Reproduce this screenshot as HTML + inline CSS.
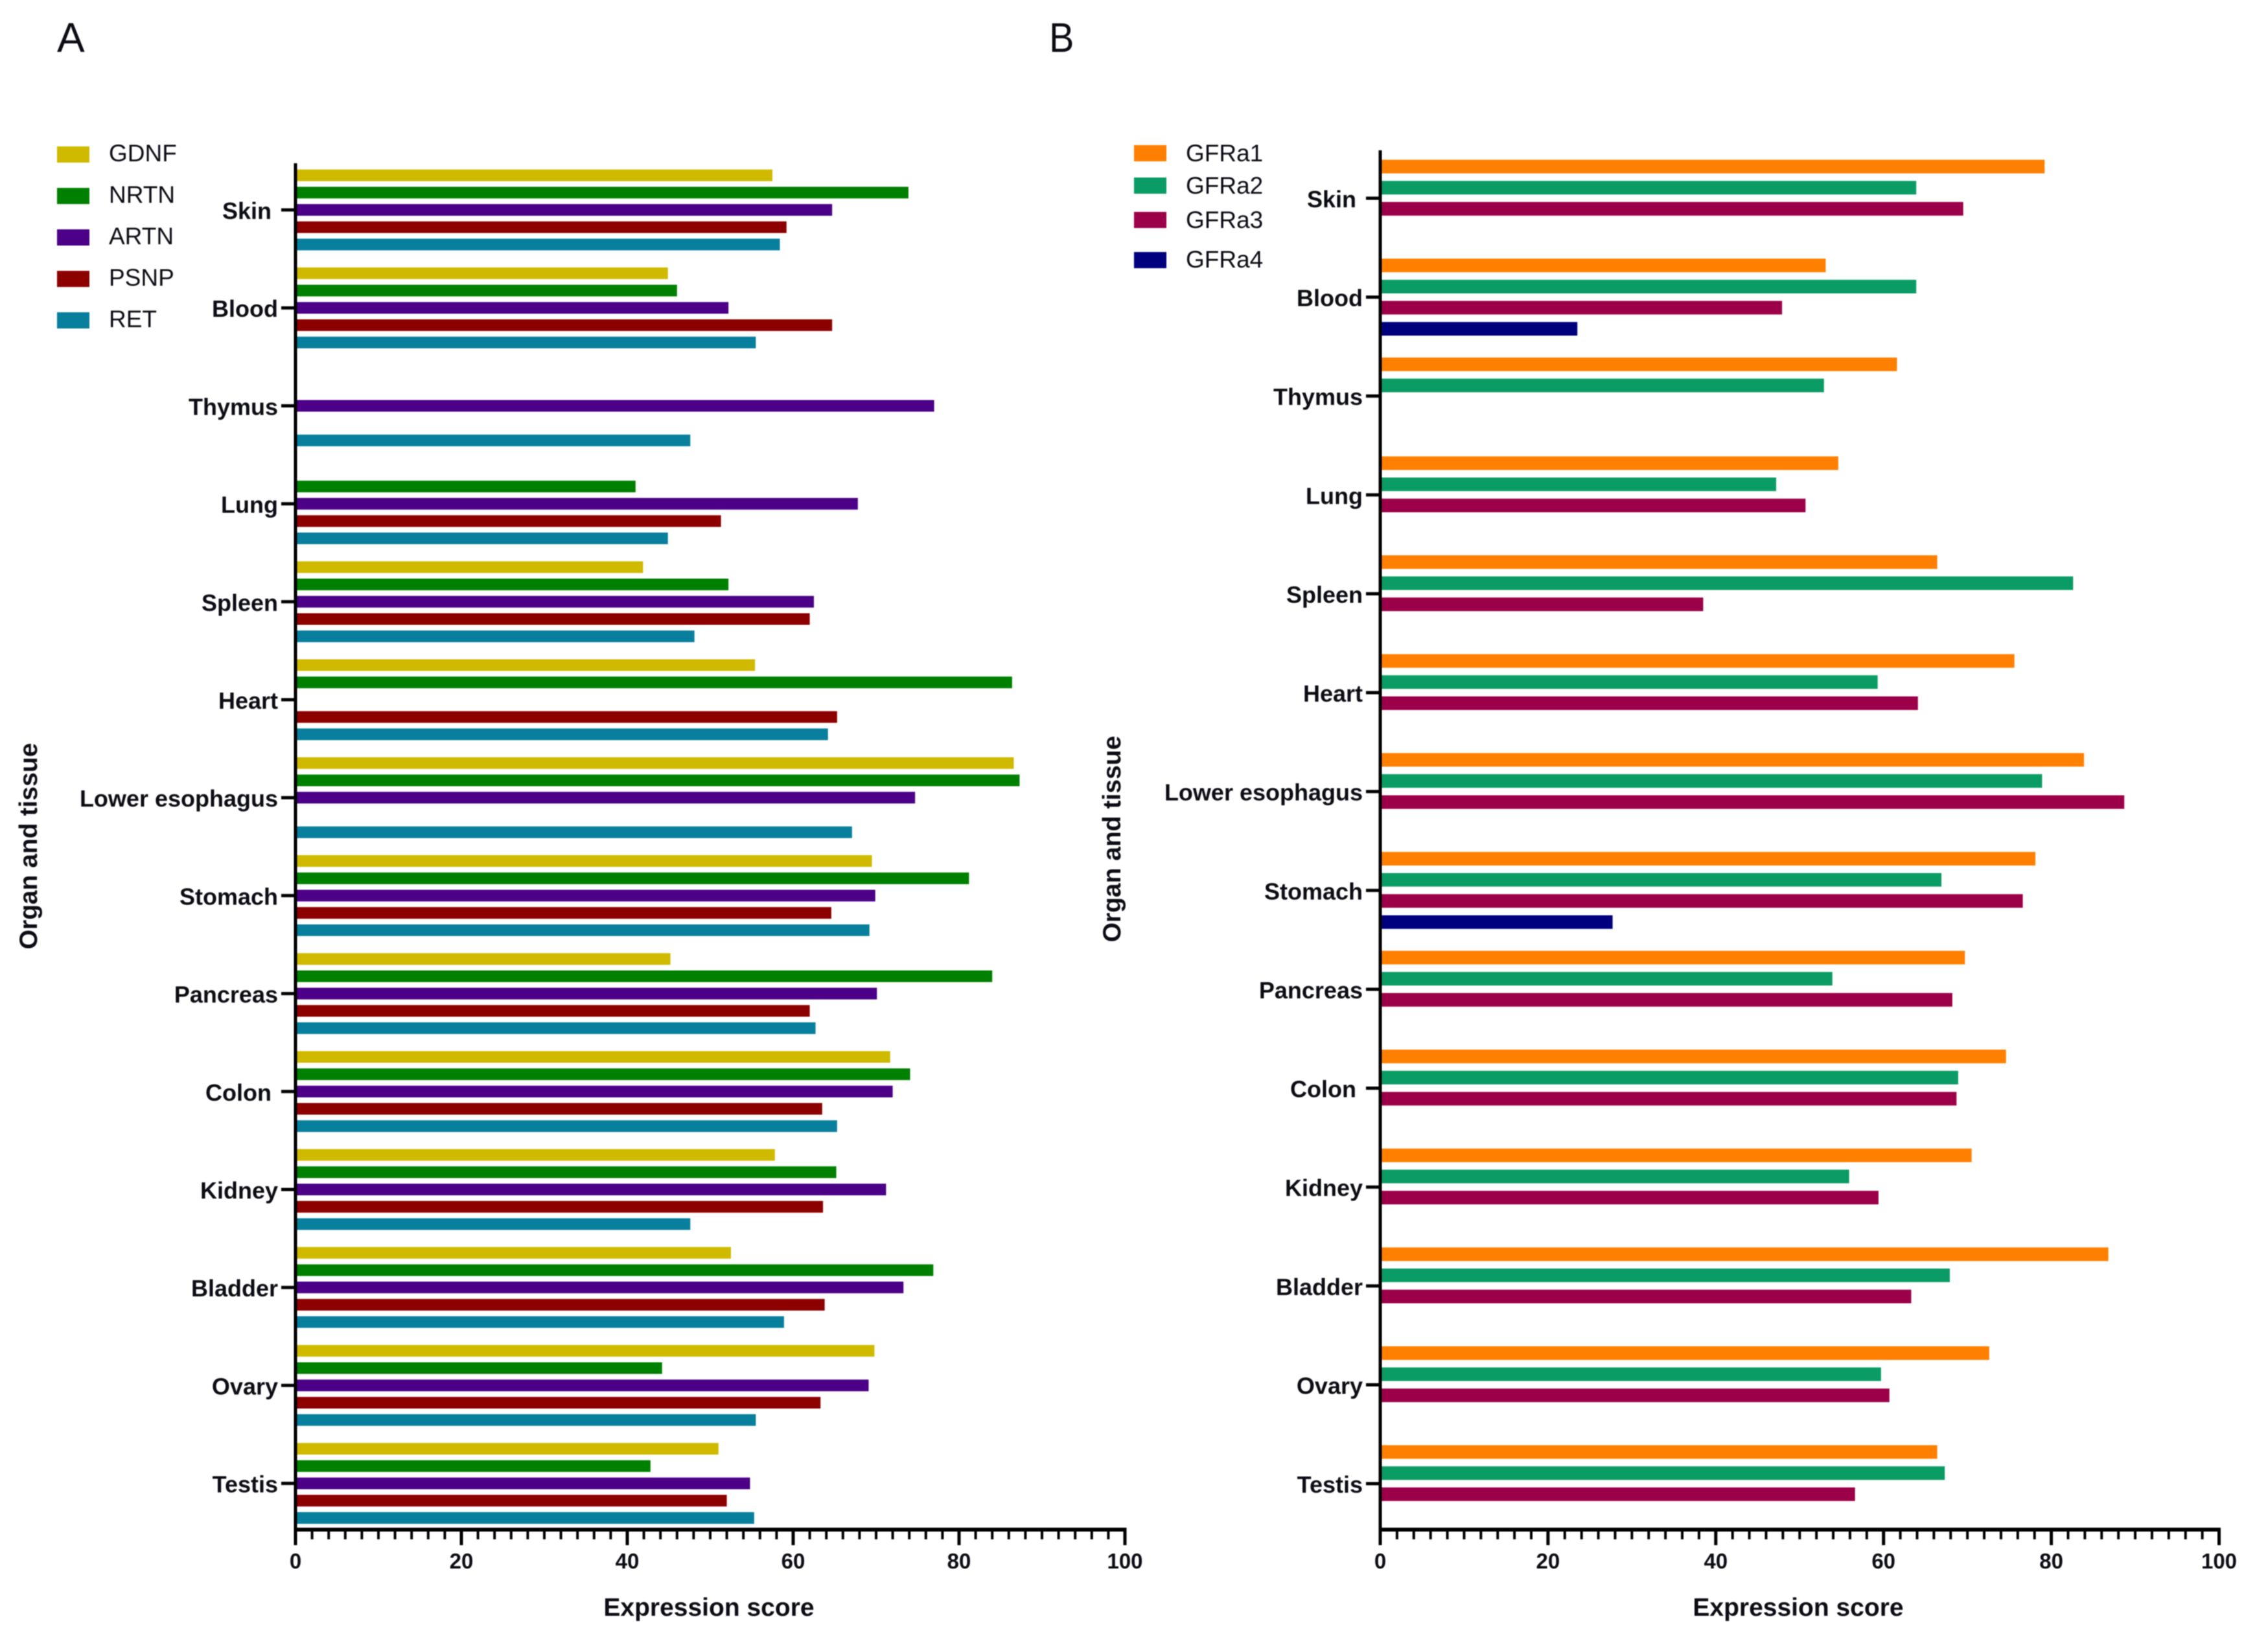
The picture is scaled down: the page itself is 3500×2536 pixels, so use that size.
<!DOCTYPE html>
<html lang="en">
<head>
<meta charset="utf-8">
<title>Expression score by organ and tissue</title>
<style>
html,body{margin:0;padding:0;background:#fff;}
svg{display:block;filter:blur(0.8px);}
text{font-family:"Liberation Sans",Arial,sans-serif;fill:#0c0c14;}
.legend{font-size:37px;}
.bold{font-weight:bold;}
</style>
</head>
<body>
<svg id="figure" xmlns="http://www.w3.org/2000/svg" width="3500" height="2536" viewBox="0 0 3500 2536">
  <rect x="0" y="0" width="3500" height="2536" fill="#fff"/>
  <text x="88" y="80" font-size="64">A</text>
  <text x="0" y="0" font-size="64" transform="translate(1619 80) scale(0.9 1)">B</text>

  <g>
    <rect x="88" y="226" width="50" height="25" fill="#d0ba00"/>
    <text class="legend" x="168" y="249">GDNF</text>
    <rect x="88" y="290" width="50" height="25" fill="#008000"/>
    <text class="legend" x="168" y="313">NRTN</text>
    <rect x="88" y="354" width="50" height="25" fill="#4b0087"/>
    <text class="legend" x="168" y="377">ARTN</text>
    <rect x="88" y="418" width="50" height="25" fill="#8c0000"/>
    <text class="legend" x="168" y="441">PSNP</text>
    <rect x="88" y="482" width="50" height="25" fill="#087f9c"/>
    <text class="legend" x="168" y="505">RET</text>
  </g>

  <g>
    <rect x="1750" y="224" width="50" height="25" fill="#ff7f00"/>
    <text class="legend" x="1830" y="249">GFRa1</text>
    <rect x="1750" y="274" width="50" height="25" fill="#0a9c64"/>
    <text class="legend" x="1830" y="299">GFRa2</text>
    <rect x="1750" y="327" width="50" height="25" fill="#9c0048"/>
    <text class="legend" x="1830" y="352">GFRa3</text>
    <rect x="1750" y="389" width="50" height="25" fill="#00007f"/>
    <text class="legend" x="1830" y="413">GFRa4</text>
  </g>

  <text class="bold" x="1094" y="2494" font-size="39" text-anchor="middle">Expression score</text>
  <text class="bold" x="2775" y="2494" font-size="39" text-anchor="middle">Expression score</text>
  <text class="bold" x="0" y="0" font-size="39" text-anchor="middle" transform="translate(57 1306) rotate(-90)">Organ and tissue</text>
  <text class="bold" x="0" y="0" font-size="39" text-anchor="middle" transform="translate(1729 1295) rotate(-90)">Organ and tissue</text>
  <g id="panel-a"></g>
  <g id="panel-b"></g>
</svg>
<script>
const categories = ['Skin','Blood','Thymus','Lung','Spleen','Heart','Lower esophagus','Stomach','Pancreas','Colon','Kidney','Bladder','Ovary','Testis'];
const looseLabels = ['Skin','Colon'];
const xTicks = [0,20,40,60,80,100];
const xMax = 100;
const minorStep = 2;

const seriesNamesA = ['GDNF','NRTN','ARTN','PSNP','RET'];
const seriesColorsA = ['#d0ba00','#008000','#4b0087','#8c0000','#087f9c'];
const gdnf = [57.5,44.9,null,null,41.9,55.4,86.6,69.5,45.2,71.7,57.8,52.5,69.8,51];
const nrtn = [73.9,46,null,41,52.2,86.4,87.3,81.2,84,74.1,65.2,76.9,44.2,42.8];
const artn = [64.7,52.2,77,67.8,62.5,null,74.7,69.9,70.1,72,71.2,73.3,69.1,54.8];
const psnp = [59.2,64.7,null,51.3,62,65.3,null,64.6,62,63.5,63.6,63.8,63.3,52];
const ret = [58.4,55.5,47.6,44.9,48.1,64.2,67.1,69.2,62.7,65.3,47.6,58.9,55.5,55.3];

const seriesNamesB = ['GFRa1','GFRa2','GFRa3','GFRa4'];
const seriesColorsB = ['#ff7f00','#0a9c64','#9c0048','#00007f'];
const gfra1 = [79.2,53.1,61.6,54.6,66.4,75.6,83.9,78.1,69.7,74.6,70.5,86.8,72.6,66.4];
const gfra2 = [63.9,63.9,52.9,47.2,82.6,59.3,78.9,66.9,53.9,68.9,55.9,67.9,59.7,67.3];
const gfra3 = [69.5,47.9,null,50.7,38.5,64.1,88.7,76.6,68.2,68.7,59.4,63.3,60.7,56.6];
const gfra4 = [null,23.5,null,null,null,null,null,27.7,null,null,null,null,null,null];

const NS = 'http://www.w3.org/2000/svg';
function slug(s){ return s.toLowerCase().replace(/\s+/g,'-'); }
function make(tag, attrs, parent){
  const el = document.createElementNS(NS, tag);
  for (const k in attrs) el.setAttribute(k, attrs[k]);
  parent.appendChild(el);
  return el;
}

function drawPanel(cfg){
  const root = document.getElementById(cfg.id);
  const xScale = v => cfg.x0 + (v / xMax) * (cfg.x1 - cfg.x0);
  const yScale = i => cfg.firstTick + i * cfg.groupPitch;

  // bars
  categories.forEach((cat, i) => {
    cfg.series.forEach((vals, s) => {
      const v = vals[i];
      if (v === null) return;
      const bar = make('rect', {
        x: xScale(0),
        y: yScale(i) + (s - cfg.slotCenter) * cfg.slot - cfg.barH / 2,
        width: xScale(v) - xScale(0),
        height: cfg.barH,
        fill: cfg.colors[s]
      }, root);
      
      
    });
  });

  // y axis
  const yAxis = make('line', {x1:xScale(0), x2:xScale(0), y1:cfg.top, y2:cfg.bottom + 2, stroke:'#000', 'stroke-width':5}, root);
  
  

  categories.forEach((cat, i) => {
    const tick = make('line', {x1:xScale(0) - 22, x2:xScale(0), y1:yScale(i), y2:yScale(i), stroke:'#000', 'stroke-width':5}, root);
    
    
    const gap = looseLabels.includes(cat) ? 37 : 27;
    const label = make('text', {x:xScale(0) - gap, y:yScale(i) + 14, 'font-size':36, 'font-weight':'bold', 'text-anchor':'end'}, root);
    label.textContent = cat;
    
    
  });

  // x axis
  const xAxis = make('line', {x1:xScale(0) - 2.5, x2:xScale(xMax) + 2.5, y1:cfg.bottom, y2:cfg.bottom, stroke:'#000', 'stroke-width':6}, root);
  
  

  for (let v = 0; v <= xMax; v += minorStep) {
    if (xTicks.includes(v)) continue;
    const minor = make('line', {x1:xScale(v), x2:xScale(v), y1:cfg.bottom, y2:cfg.bottom + 15, stroke:'#000', 'stroke-width':4}, root);
    
    
  }
  xTicks.forEach(v => {
    const major = make('line', {x1:xScale(v), x2:xScale(v), y1:cfg.bottom, y2:cfg.bottom + 24, stroke:'#000', 'stroke-width':5}, root);
    
    
    const label = make('text', {x:xScale(v), y:cfg.bottom + 60, 'font-size':33, 'font-weight':'bold', 'text-anchor':'middle'}, root);
    label.textContent = v;
    
    
  });
}

drawPanel({
  id:'panel-a', names:seriesNamesA, colors:seriesColorsA, series:[gdnf,nrtn,artn,psnp,ret],
  x0:456, x1:1736, top:252, bottom:2361, firstTick:324, groupPitch:151.2, slot:26.7, slotCenter:2, barH:18
});
drawPanel({
  id:'panel-b', names:seriesNamesB, colors:seriesColorsB, series:[gfra1,gfra2,gfra3,gfra4],
  x0:2130, x1:3424.5, top:232, bottom:2361, firstTick:306, groupPitch:152.62, slot:32.6, slotCenter:1.5, barH:21
});
</script>
</body>
</html>
